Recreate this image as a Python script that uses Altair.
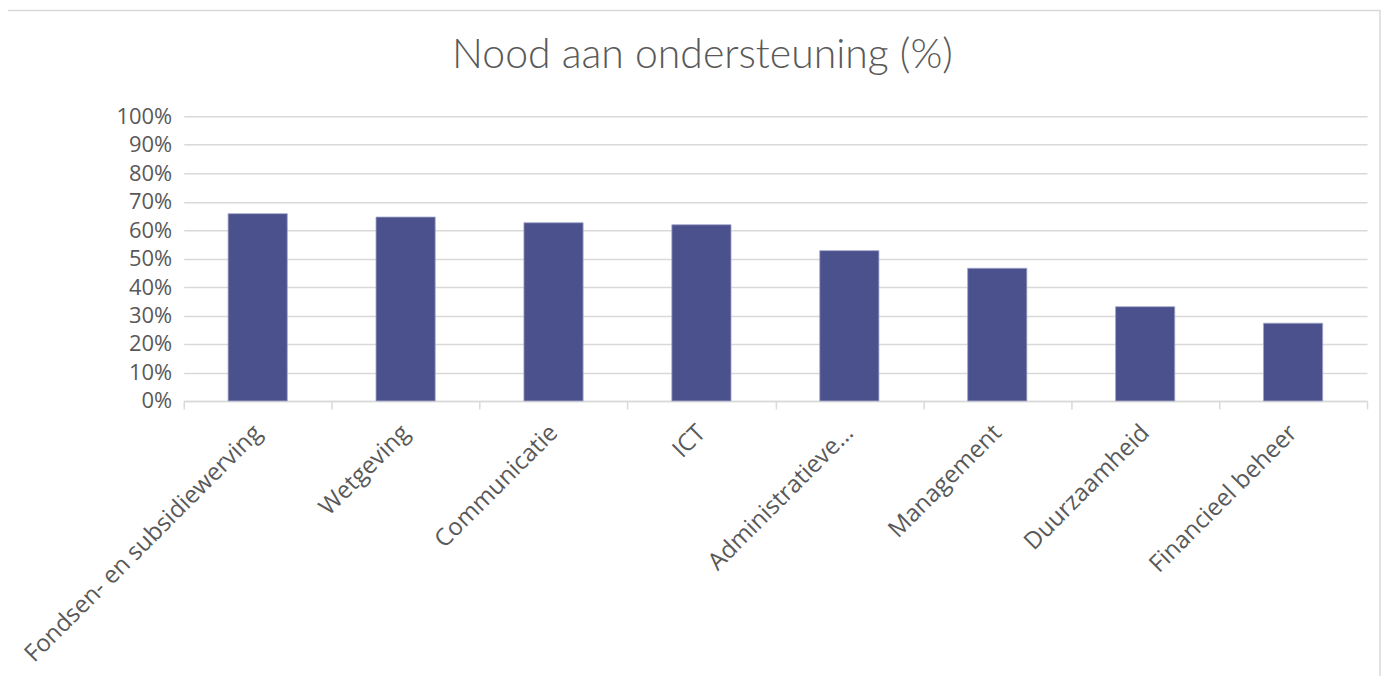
import altair as alt
import pandas as pd

categories = [
    "Fondsen- en subsidiewerving",
    "Wetgeving",
    "Communicatie",
    "ICT",
    "Administratieve…",
    "Management",
    "Duurzaamheid",
    "Financieel beheer",
]
values = [65.8, 64.6, 62.6, 61.9, 52.8, 46.6, 33.1, 27.3]
y_ticks = [0, 10, 20, 30, 40, 50, 60, 70, 80, 90, 100]

df = pd.DataFrame({"cat": categories, "val": values})

W, H = 1185, 285

frame = alt.Chart(pd.DataFrame({"a": [0]})).mark_rect(
    fillOpacity=0, stroke="#d9d9d9", strokeWidth=1.5
).encode(
    x=alt.value(-177), x2=alt.value(1198), y=alt.value(-106), y2=alt.value(640)
)

bars = alt.Chart(df).mark_bar(
    color="#4a518c", stroke="#9fa3c8", strokeWidth=0.8,
    width=alt.RelativeBandSize(0.4),
).encode(
    x=alt.X(
        "cat:N",
        sort=categories,
        title=None,
        scale=alt.Scale(paddingInner=0, paddingOuter=0),
        axis=alt.Axis(
            labelAngle=-45,
            labelAlign="right",
            labelBaseline="middle",
            labelFont="Open Sans",
            labelFontSize=24,
            labelColor="#595959",
            labelPadding=20,
            labelLimit=500,
            tickBand="extent",
            tickColor="#d9d9d9",
            tickWidth=1.5,
            tickSize=8,
            domainColor="#d9d9d9",
            domainWidth=1.5,
            grid=False,
        ),
    ),
    y=alt.Y(
        "val:Q",
        title=None,
        scale=alt.Scale(domain=[0, 100], nice=False),
        axis=alt.Axis(
            values=y_ticks,
            labelExpr="datum.value + '%'",
            labelFont="Open Sans",
            labelFontSize=22,
            labelColor="#595959",
            labelPadding=12,
            ticks=False,
            domain=False,
            gridColor="#d9d9d9",
            gridWidth=1.5,
        ),
    ),
)

chart = alt.layer(frame, bars).properties(
    width=W,
    height=H,
    padding={"left": 176, "top": 108, "right": 14, "bottom": 275},
    autosize=alt.AutoSizeParams(type="none"),
    title=alt.TitleParams(
        "Nood aan ondersteuning (%)",
        font="Lato",
        fontSize=41,
        fontWeight=300,
        color="#595959",
        anchor="middle",
        dx=-73,
        offset=-67,
    ),
).configure_view(stroke=None)

chart.save("out.html", embed_options={"renderer": "svg", "actions": False})
